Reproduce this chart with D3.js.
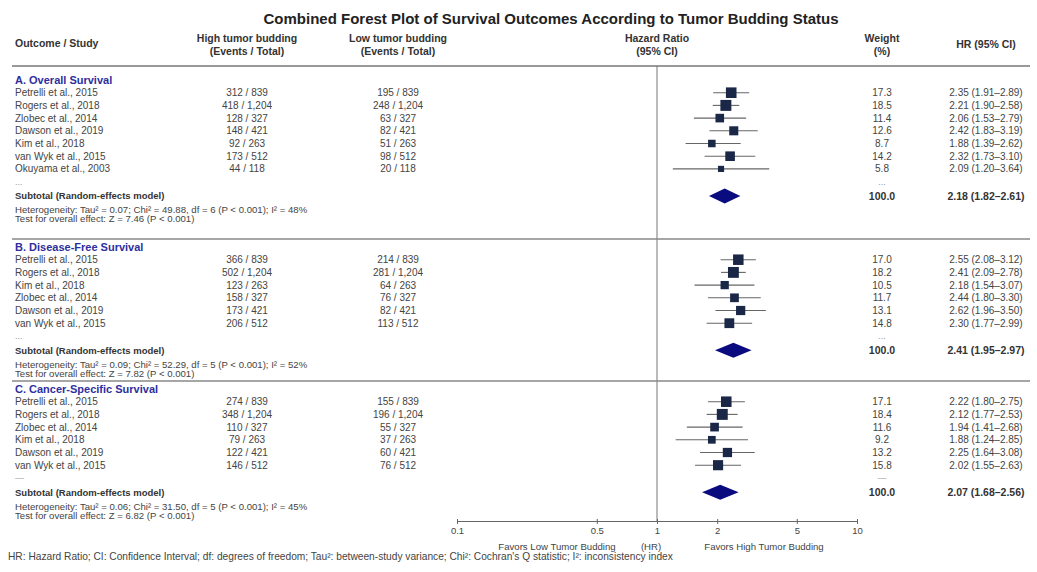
<!DOCTYPE html>
<html>
<head>
<meta charset="utf-8">
<script src="https://cdn.jsdelivr.net/npm/d3@7/dist/d3.min.js"></script>
<style>
  body { margin: 0; background: #fff; }
  svg { font-family: "Liberation Sans", Arial, sans-serif; }
</style>
</head>
<body>
<svg id="forest"></svg>
<script>
// ---- data ----
const sectionTitles = ["A. Overall Survival", "B. Disease-Free Survival", "C. Cancer-Specific Survival"];

const osStudies = ["Petrelli et al., 2015", "Rogers et al., 2018", "Zlobec et al., 2014", "Dawson et al., 2019", "Kim et al., 2018", "van Wyk et al., 2015", "Okuyama et al., 2003"];
const osHigh = ["312 / 839", "418 / 1,204", "128 / 327", "148 / 421", "92 / 263", "173 / 512", "44 / 118"];
const osLow = ["195 / 839", "248 / 1,204", "63 / 327", "82 / 421", "51 / 263", "98 / 512", "20 / 118"];
const osWeight = [17.3, 18.5, 11.4, 12.6, 8.7, 14.2, 5.8];
const osHR = [2.35, 2.21, 2.06, 2.42, 1.88, 2.32, 2.09];
const osLo = [1.91, 1.90, 1.53, 1.83, 1.39, 1.73, 1.20];
const osHi = [2.89, 2.58, 2.79, 3.19, 2.62, 3.10, 3.64];

const dfsStudies = ["Petrelli et al., 2015", "Rogers et al., 2018", "Kim et al., 2018", "Zlobec et al., 2014", "Dawson et al., 2019", "van Wyk et al., 2015"];
const dfsHigh = ["366 / 839", "502 / 1,204", "123 / 263", "158 / 327", "173 / 421", "206 / 512"];
const dfsLow = ["214 / 839", "281 / 1,204", "64 / 263", "76 / 327", "82 / 421", "113 / 512"];
const dfsWeight = [17.0, 18.2, 10.5, 11.7, 13.1, 14.8];
const dfsHR = [2.55, 2.41, 2.18, 2.44, 2.62, 2.30];
const dfsLo = [2.08, 2.09, 1.54, 1.80, 1.96, 1.77];
const dfsHi = [3.12, 2.78, 3.07, 3.30, 3.50, 2.99];

const cssStudies = ["Petrelli et al., 2015", "Rogers et al., 2018", "Zlobec et al., 2014", "Kim et al., 2018", "Dawson et al., 2019", "van Wyk et al., 2015"];
const cssHigh = ["274 / 839", "348 / 1,204", "110 / 327", "79 / 263", "122 / 421", "146 / 512"];
const cssLow = ["155 / 839", "196 / 1,204", "55 / 327", "37 / 263", "60 / 421", "76 / 512"];
const cssWeight = [17.1, 18.4, 11.6, 9.2, 13.2, 15.8];
const cssHR = [2.22, 2.12, 1.94, 1.88, 2.25, 2.02];
const cssLo = [1.80, 1.77, 1.41, 1.24, 1.64, 1.55];
const cssHi = [2.75, 2.53, 2.68, 2.85, 3.08, 2.63];

// pooled estimates (random effects)
const subHR = [2.18, 2.41, 2.07];
const subLo = [1.82, 1.95, 1.68];
const subHi = [2.61, 2.97, 2.56];
const hetText = [
  "Heterogeneity: Tau\u00b2 = 0.07; Chi\u00b2 = 49.88, df = 6 (P < 0.001); I\u00b2 = 48%",
  "Heterogeneity: Tau\u00b2 = 0.09; Chi\u00b2 = 52.29, df = 5 (P < 0.001); I\u00b2 = 52%",
  "Heterogeneity: Tau\u00b2 = 0.06; Chi\u00b2 = 31.50, df = 5 (P < 0.001); I\u00b2 = 45%"
];
const testText = [
  "Test for overall effect: Z = 7.46 (P < 0.001)",
  "Test for overall effect: Z = 7.82 (P < 0.001)",
  "Test for overall effect: Z = 6.82 (P < 0.001)"
];
const dotsText = ["...", "...", "\u2014"];

const axisTicks = [0.1, 0.5, 1, 2, 5, 10];

// ---- build sections ----
function makeRows(st, hi, lo, w, hr, l, h) {
  return st.map((s, i) => ({study: s, high: hi[i], low: lo[i], weight: w[i], hr: hr[i], lo: l[i], hi: h[i]}));
}
const sections = [
  makeRows(osStudies, osHigh, osLow, osWeight, osHR, osLo, osHi),
  makeRows(dfsStudies, dfsHigh, dfsLow, dfsWeight, dfsHR, dfsLo, dfsHi),
  makeRows(cssStudies, cssHigh, cssLow, cssWeight, cssHR, cssLo, cssHi)
];

// ---- layout ----
const W = 1037, H = 572;
const rowH = 12.7;
const secY = [80, 247, 389];   // y of each section heading
const axisY = 521;
const colStudy = 15, colHigh = 247, colLow = 398, colW = 882, colHR = 986;
const textCol = "#444", secCol = "#2e2e9e", markCol = "#1b2746", diaCol = "#0b0b80";

const svg = d3.select("#forest").attr("width", W).attr("height", H);

const x = d3.scaleLog().domain([0.1, 10]).range([457, 857]);
const box = d3.scaleSqrt().domain([0, 20]).range([0, 11.4]);

const fmt = d => d.toFixed(2);
const ciLabel = (h, l, u) => `${fmt(h)} (${fmt(l)}\u2013${fmt(u)})`;

// title
svg.append("text")
  .attr("x", 551).attr("y", 24)
  .attr("text-anchor", "middle")
  .attr("font-size", 15).attr("font-weight", "bold").attr("fill", "#222")
  .text("Combined Forest Plot of Survival Outcomes According to Tumor Budding Status");

// column headers
let hdr = svg.append("g").attr("font-size", 10.5).attr("font-weight", "bold").attr("fill", "#333");
hdr.append("text").attr("x", colStudy).attr("y", 47).text("Outcome / Study");
[[colHigh, "High tumor budding", "(Events / Total)"],
 [colLow, "Low tumor budding", "(Events / Total)"],
 [x(1), "Hazard Ratio", "(95% CI)"],
 [colW, "Weight", "(%)"]].forEach(c => {
  hdr.append("text").attr("x", c[0]).attr("y", 42).attr("text-anchor", "middle").text(c[1]);
  hdr.append("text").attr("x", c[0]).attr("y", 55).attr("text-anchor", "middle").text(c[2]);
});
hdr.append("text").attr("x", colHR).attr("y", 48).attr("text-anchor", "middle").text("HR (95% CI)");

svg.append("line")
  .attr("x1", 12).attr("x2", 1030).attr("y1", 66).attr("y2", 66)
  .attr("stroke", "#777").attr("stroke-width", 1.6);

// reference line at HR = 1
svg.append("line")
  .attr("x1", x(1)).attr("x2", x(1)).attr("y1", 66).attr("y2", axisY)
  .attr("stroke", "#777").attr("stroke-width", 1);

// sections
sections.forEach((rows, s) => {
  let y = secY[s];
  let g = svg.append("g");

  if (s > 0) {
    svg.append("line")
      .attr("x1", 12).attr("x2", 1030).attr("y1", y - 8).attr("y2", y - 8)
      .attr("stroke", "#888").attr("stroke-width", 1.5);
  }

  g.append("text").attr("x", colStudy).attr("y", y).attr("dy", "0.35em")
    .attr("font-size", 11).attr("font-weight", "bold").attr("fill", secCol)
    .text(sectionTitles[s]);

  rows.forEach((d, i) => {
    let ry = y + rowH * (i + 1);
    let r = g.append("g").attr("font-size", 10).attr("fill", textCol);
    r.append("text").attr("x", colStudy).attr("y", ry).attr("dy", "0.35em").text(d.study);
    r.append("text").attr("x", colHigh).attr("y", ry).attr("dy", "0.35em").attr("text-anchor", "middle").text(d.high);
    r.append("text").attr("x", colLow).attr("y", ry).attr("dy", "0.35em").attr("text-anchor", "middle").text(d.low);
    r.append("text").attr("x", colW).attr("y", ry).attr("dy", "0.35em").attr("text-anchor", "middle").text(d.weight.toFixed(1));
    r.append("text").attr("x", colHR).attr("y", ry).attr("dy", "0.35em").attr("text-anchor", "middle").text(ciLabel(d.hr, d.lo, d.hi));

    // CI whisker + weighted square
    g.append("line")
      .attr("x1", x(d.lo)).attr("x2", x(d.hi)).attr("y1", ry).attr("y2", ry)
      .attr("stroke", "#666").attr("stroke-width", 1.1);
    let b = box(d.weight);
    g.append("rect")
      .attr("x", x(d.hr) - b / 2).attr("y", ry - b / 2)
      .attr("width", b).attr("height", b)
      .attr("fill", markCol);
  });

  let last = y + rowH * rows.length;
  let dy = last + 13;
  g.append("text").attr("x", colStudy).attr("y", dy).attr("dy", "0.35em")
    .attr("font-size", 9).attr("fill", "#999").text(dotsText[s]);
  g.append("text").attr("x", colW).attr("y", dy).attr("dy", "0.35em").attr("text-anchor", "middle")
    .attr("font-size", 9).attr("fill", "#999").text(dotsText[s]);

  // subtotal
  let sy = last + 27;
  g.append("text").attr("x", colStudy).attr("y", sy).attr("dy", "0.35em")
    .attr("font-size", 9.5).attr("font-weight", "bold").attr("fill", "#333")
    .text("Subtotal (Random-effects model)");
  g.append("text").attr("x", colW).attr("y", sy).attr("dy", "0.35em").attr("text-anchor", "middle")
    .attr("font-size", 10.5).attr("font-weight", "bold").attr("fill", "#333").text("100.0");
  g.append("text").attr("x", colHR).attr("y", sy).attr("dy", "0.35em").attr("text-anchor", "middle")
    .attr("font-size", 10.5).attr("font-weight", "bold").attr("fill", "#333")
    .text(ciLabel(subHR[s], subLo[s], subHi[s]));
  let dh = 7.5;
  g.append("path")
    .attr("d", `M${x(subLo[s])},${sy} L${x(subHR[s])},${sy - dh} L${x(subHi[s])},${sy} L${x(subHR[s])},${sy + dh} Z`)
    .attr("fill", diaCol);

  // heterogeneity
  g.append("text").attr("x", colStudy).attr("y", sy + 14).attr("dy", "0.35em")
    .attr("font-size", 9.6).attr("fill", textCol).text(hetText[s]);
  g.append("text").attr("x", colStudy).attr("y", sy + 23).attr("dy", "0.35em")
    .attr("font-size", 9.6).attr("fill", textCol).text(testText[s]);
});

// axis
let ax = svg.append("g")
  .attr("transform", `translate(0,${axisY})`)
  .call(d3.axisBottom(x).tickValues(axisTicks).tickFormat(d => d).tickSize(3).tickSizeOuter(0));
ax.select(".domain").attr("stroke", "#666");
ax.selectAll(".tick line").attr("y1", -2).attr("stroke", "#666");
ax.selectAll(".tick text").attr("font-size", 9.5).attr("fill", "#444").attr("font-family", "Liberation Sans, Arial, sans-serif");

let lab = svg.append("g").attr("font-size", 9.6).attr("fill", "#444").attr("text-anchor", "middle");
lab.append("text").attr("x", 557).attr("y", axisY + 29).text("Favors Low Tumor Budding");
lab.append("text").attr("x", x(1) - 6).attr("y", axisY + 29).text("(HR)");
lab.append("text").attr("x", 764).attr("y", axisY + 29).text("Favors High Tumor Budding");

svg.append("text")
  .attr("x", 8).attr("y", 560)
  .attr("font-size", 10.2).attr("fill", "#444")
  .text("HR: Hazard Ratio; CI: Confidence Interval; df: degrees of freedom; Tau\u00b2: between-study variance; Chi\u00b2: Cochran's Q statistic; I\u00b2: inconsistency index");
</script>
</body>
</html>
